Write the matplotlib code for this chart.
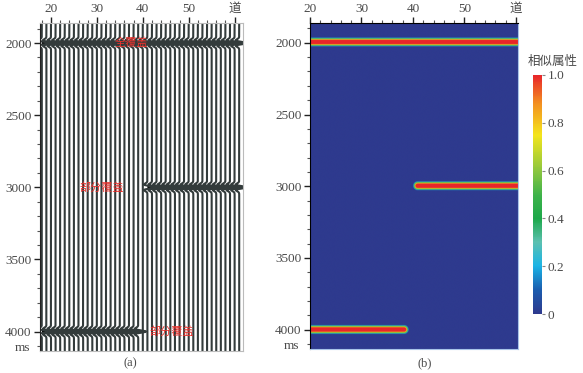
# coding=utf-8
import numpy as np
import matplotlib
matplotlib.use('Agg')
from matplotlib import pyplot as plt
from matplotlib.colors import LinearSegmentedColormap

plt.rcParams['font.family'] = ['Liberation Serif', 'Noto Sans CJK SC']

# data
traces = list(range(18, 62))            # trace numbers in panel (a)
event_times = [2000, 3000, 4000]        # ms
event_first = [18, 41, 18]              # first trace with the event (a)
event_last = [61, 61, 39]               # last trace with the event (a)
sim_first = [19.0, 40.8, 19.0]          # similarity band start (b)
sim_last = [62.0, 62.0, 38.2]           # similarity band end (b)
x_ticks = [20, 30, 40, 50, 60]
x_labels = ['20', '30', '40', '50', '道']
y_ticks = [2000, 2500, 3000, 3500, 4000]
cb_ticks = [0, 0.2, 0.4, 0.6, 0.8, 1.0]
cb_labels = ['0', '0.2', '0.4', '0.6', '0.8', '1.0']
notes = [('全覆盖', 37.4, 2000), ('部分覆盖', 31.0, 3000), ('部分覆盖', 46.3, 4000)]

gray = '#4a4a4a'
trace_col = '#333b3b'

fig = plt.figure(figsize=(5.83, 3.73), dpi=100)


def ricker(t, f=20.0):
    a = (np.pi * f * t / 1000.0) ** 2
    return (1 - 2 * a) * np.exp(-a)


def style_axes(ax, xlim):
    ax.xaxis.tick_top()
    ax.set_xticks(x_ticks)
    ax.set_xticklabels(x_labels)
    ax.set_xticks(np.arange(18, 62, 2), minor=True)
    ax.set_yticks(y_ticks)
    ax.set_yticks(np.arange(1900, 4140, 100), minor=True)
    ax.tick_params(which='major', length=4, width=1, colors='#222222',
                   labelcolor=gray, labelsize=9.5, pad=2)
    ax.tick_params(which='minor', length=2, width=0.8, colors='#555555')
    for lab in ax.get_xticklabels():
        if lab.get_text() == '道':
            lab.set_family(['Noto Sans CJK SC'])
            lab.set_fontsize(9)
    ax.set_xlim(*xlim)
    ax.set_ylim(4135, 1862)
    ax.text(-0.05, 4112, 'ms', transform=ax.get_yaxis_transform(),
            ha='right', va='center', fontsize=9.5, color=gray)


# ---- (a) wiggle section ----
ax1 = fig.add_axes([0.0686, 0.059, 0.348, 0.879])
t = np.arange(1850, 4150, 1.0)
gain = 1.7
for tr in traces:
    amp = np.zeros_like(t)
    for te, a, b in zip(event_times, event_first, event_last):
        if a <= tr <= b:
            amp += ricker(t - te)
    xs = tr + gain * amp
    ax1.fill_betweenx(t, tr, xs, where=amp > 0, color='black', lw=0)
    ax1.plot(xs, t, color=trace_col, lw=1.5)
for txt, x, y in notes:
    ax1.text(x, y, txt, color='#e8332e', fontsize=8, ha='center', va='center',
             family=['Noto Sans CJK SC'])
style_axes(ax1, (17.6, 61.8))
for s in ['top', 'right', 'bottom']:
    ax1.spines[s].set_color('#bbbbbb')
ax1.spines['left'].set_color('#222222')

# ---- (b) similarity attribute ----
cmap = LinearSegmentedColormap.from_list('sim', [
    (0.0, '#2e3a8e'), (0.1, '#1b5cae'), (0.2, '#1ab4e6'), (0.3, '#5cc0b0'),
    (0.4, '#1da84a'), (0.5, '#3fb34a'), (0.6, '#8cc63f'), (0.75, '#f4e51c'),
    (0.88, '#f39121'), (1.0, '#e8262a')])

ax2 = fig.add_axes([0.5317, 0.0643, 0.3568, 0.874])
gx = np.linspace(19.5, 61.5, 600)
gt = np.linspace(1850, 4150, 1400)
X, T = np.meshgrid(gx, gt)
val = np.zeros_like(X)
for te, a, b in zip(event_times, sim_first, sim_last):
    dx = np.maximum(np.maximum(a - X, X - b), 0) * 36.0
    d = np.hypot(dx, T - te)
    val = np.maximum(val, np.clip((32.0 - d) / 18.0, 0, 1))
im = ax2.imshow(val, extent=[gx[0], gx[-1], gt[-1], gt[0]], aspect='auto',
                cmap=cmap, vmin=0, vmax=1, interpolation='bilinear')
style_axes(ax2, (20, 60.4))
ax2.spines['right'].set_color('#a8c4e8')
ax2.spines['bottom'].set_color('#a8c4e8')

cax = fig.add_axes([0.914, 0.158, 0.0154, 0.641])
cb = fig.colorbar(im, cax=cax, ticks=cb_ticks)
cb.set_ticklabels(cb_labels)
cb.outline.set_visible(False)
cax.tick_params(length=2, colors='#888888', labelcolor=gray, labelsize=9.5, pad=2)
fig.text(0.948, 0.836, '相似属性', ha='center', va='center', fontsize=9,
         color=gray, family=['Noto Sans CJK SC'])

fig.text(0.223, 0.027, '(a)', ha='center', va='center', fontsize=9, color=gray)
fig.text(0.729, 0.027, '(b)', ha='center', va='center', fontsize=9, color=gray)

plt.savefig('out.png', dpi=100)
